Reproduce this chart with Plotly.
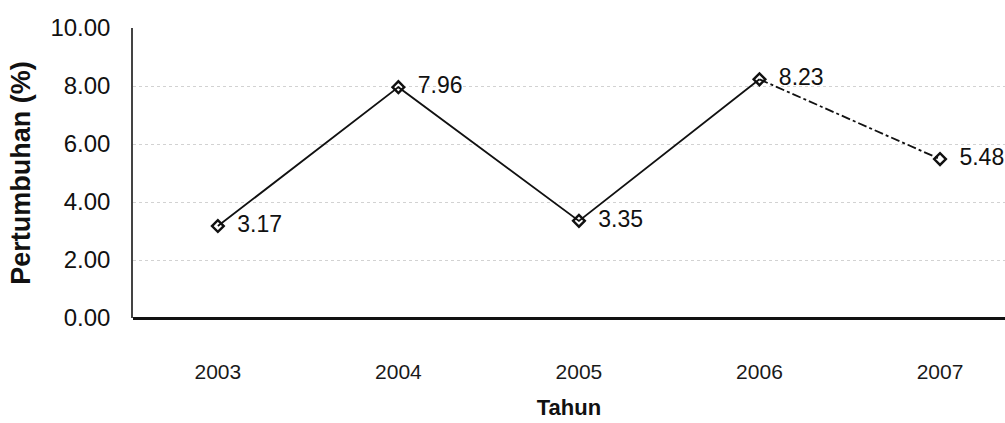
import plotly.graph_objects as go

years = ["2003", "2004", "2005", "2006", "2007"]
growth = [3.17, 7.96, 3.35, 8.23, 5.48]
labels = ["3.17", "7.96", "3.35", "8.23", "5.48"]
y_ticks = [0, 2, 4, 6, 8, 10]
y_tick_text = ["0.00", "2.00", "4.00", "6.00", "8.00", "10.00"]

FONT = "Liberation Sans, Arial, sans-serif"

fig = go.Figure()
# solid segments 2003-2006
fig.add_trace(go.Scatter(
    x=years[:4], y=growth[:4], mode="lines",
    line=dict(color="#111111", width=1.8), hoverinfo="skip", showlegend=False))
# dash-dot last segment
fig.add_trace(go.Scatter(
    x=years[3:], y=growth[3:], mode="lines",
    line=dict(color="#111111", width=1.8, dash="dashdot"), hoverinfo="skip", showlegend=False))
# markers + labels
fig.add_trace(go.Scatter(
    x=years, y=growth, mode="markers+text", cliponaxis=False,
    marker=dict(symbol="diamond-open", size=9, color="#111111", line=dict(width=2.4, color="#111111")),
    text=["  " + t for t in labels], textposition="middle right",
    textfont=dict(family=FONT, size=23, color="#111111"),
    showlegend=False))

fig.update_layout(
    width=1005, height=423,
    margin=dict(l=133, r=0, t=28, b=105),
    plot_bgcolor="white", paper_bgcolor="white",
    font=dict(family=FONT, color="#111111"),
    xaxis=dict(
        type="category", range=[-0.47, 4.36],
        showgrid=False, showline=False, zeroline=False,
        ticks="", tickfont=dict(size=21, family=FONT, color="#1a1a1a"),
        ticklabelstandoff=39,
        title=dict(text="<b>Tahun</b>", font=dict(size=22, family=FONT), standoff=17),
    ),
    yaxis=dict(
        range=[0, 10], tickvals=y_ticks, ticktext=y_tick_text,
        showgrid=True, gridcolor="#d2d2d2", griddash="dot", gridwidth=1,
        showline=True, linecolor="#444444", linewidth=1.5,
        zeroline=True, zerolinecolor="#111111", zerolinewidth=2.5,
        ticks="", tickfont=dict(size=24, family=FONT, color="#111111"),
        ticklabelstandoff=16,
        title=dict(text="<b>Pertumbuhan (%)</b>", font=dict(size=27, family=FONT), standoff=12),
    ),
)

fig.write_html(
    "out.html",
    config={"displayModeBar": False},
    post_script="document.body.style.margin='0';document.body.style.overflow='hidden';",
)
